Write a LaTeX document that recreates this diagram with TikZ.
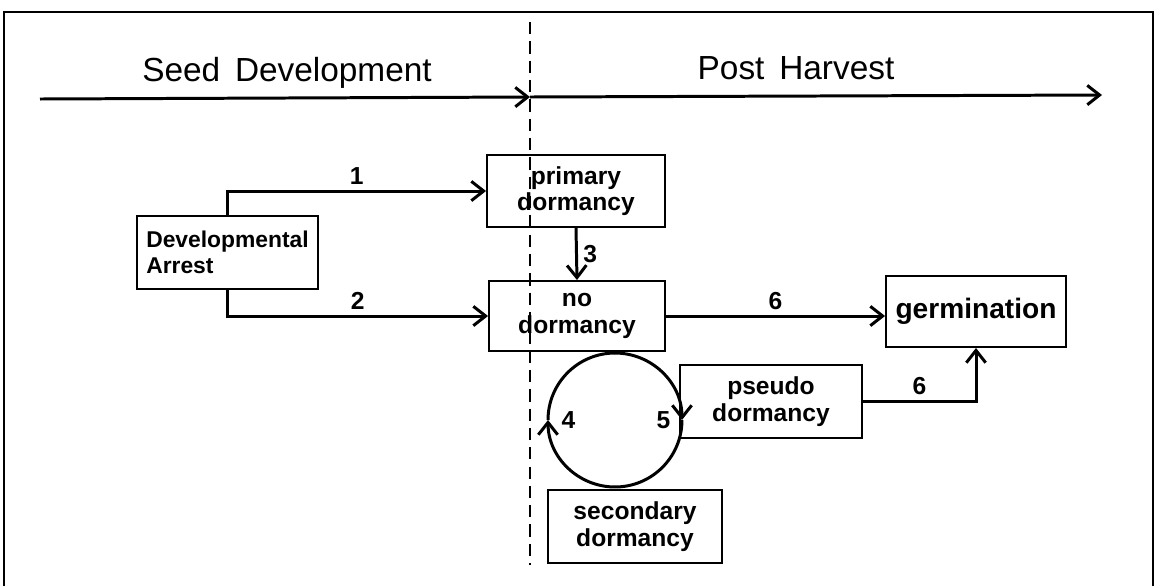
\documentclass[tikz,border=0pt]{standalone}
\usepackage{fontspec}
\setmainfont{Liberation Sans}
\usetikzlibrary{arrows.meta}

\begin{document}
\begin{tikzpicture}[
    x=0.02cm, y=-0.02cm,
    stage/.style={rectangle, draw=black, line width=1.1pt, minimum width=3.56cm, minimum height=1.44cm, align=center, inner sep=2pt, font=\fontsize{14}{15}\selectfont\bfseries},
    heading/.style={font=\fontsize{19}{22}\selectfont},
    num/.style={font=\fontsize{14}{16}\selectfont\bfseries, inner sep=3pt},
    arrow/.style={-{Straight Barb[length=7pt, width=11pt]}, line width=1.7pt},
    ring/.style={line width=1.7pt}
]
\useasboundingbox (0,0) rectangle (1157,586);

% Cadre
\draw[line width=1.1pt] (4,586) -- (4,12) -- (1153,12) -- (1153,586);

% Ligne de recolte (pointillee)
\coordinate (cuttop) at (530,22);
\coordinate (cutbot) at (530,565);
\draw[line width=0.9pt, dash pattern=on 7pt off 4pt] (cuttop) -- (cutbot);

% Axe du temps en haut
\coordinate (tstart) at (40,99);
\coordinate (tmid) at (530,97);
\coordinate (tend) at (1102,95);
\node[heading] (seeddev) at (287,73) {Seed\, Development};
\node[heading] (postharv) at (796,68) {Post\, Harvest};
\draw[arrow] (tstart) -- (tmid);
\draw[arrow] (tmid) -- (tend);

% Etats de la graine
\node[stage, align=left, minimum width=3.62cm, minimum height=1.46cm, font=\fontsize{13}{15}\selectfont\bfseries] (arrest) at (227.5,252.5) {
    Developmental\\
    Arrest\phantom{mental}
};
\node[stage] (primary) at (576,191) {primary\\dormancy};
\node[stage, minimum width=3.52cm, minimum height=1.40cm] (nodorm) at (577,316) {no\\dormancy};
\node[stage, minimum width=3.6cm, minimum height=1.42cm, font=\fontsize{16}{18}\selectfont\bfseries] (germ) at (976,311.5) {germination};
\node[stage, minimum width=3.64cm, minimum height=1.46cm] (pseudo) at (771,401.5) {pseudo\\dormancy};
\node[stage, minimum width=3.48cm, minimum height=1.46cm] (secondary) at (635,526.5) {secondary\\dormancy};

% Cycle de dormance
\node[circle, inner sep=0pt, outer sep=0pt, minimum size=2.68cm] (cyc) at (615,420) {};

% Fleches de transition
\draw[arrow] (arrest.north) |- node[num, above, pos=0.75] {1} (primary.west);
\draw[arrow] (arrest.south) |- node[num, above, pos=0.75] {2} (nodorm.west);
\draw[arrow] (primary.south) -- node[num, right] {3} (nodorm.north);
\draw[arrow] (nodorm.east) -- node[num, above] {6} (nodorm.east -| germ.west);
\draw[arrow] (pseudo.east) -| node[num, above, pos=0.25] {6} (germ.south);

\draw[ring, arrow] (cyc.south) arc[start angle=-90, end angle=-180, radius=1.34cm];
\draw[ring] (cyc.west) arc[start angle=180, end angle=90, radius=1.34cm];
\draw[ring, arrow] (cyc.north) arc[start angle=90, end angle=0, radius=1.34cm];
\draw[ring] (cyc.east) arc[start angle=0, end angle=-90, radius=1.34cm];
\node[num, right] (n4) at ([xshift=0.16cm]cyc.west) {4};
\node[num, left] (n5) at ([xshift=-0.12cm]cyc.east) {5};

\end{tikzpicture}
\end{document}
